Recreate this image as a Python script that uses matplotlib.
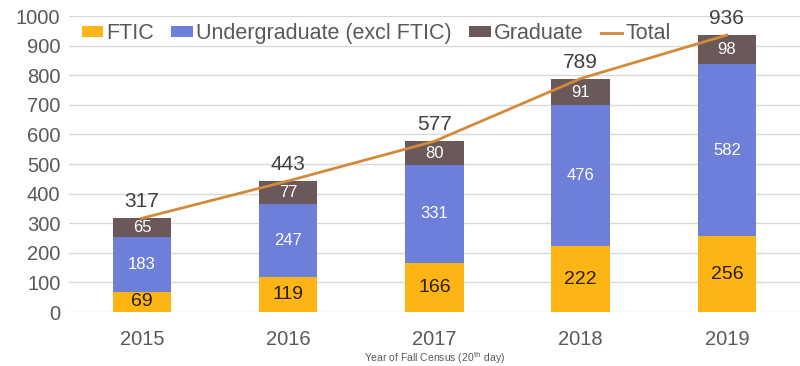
import matplotlib
matplotlib.use("Agg")
import matplotlib.pyplot as plt
import numpy as np

years = ["2015", "2016", "2017", "2018", "2019"]
ftic = [69, 119, 166, 222, 256]
undergrad = [183, 247, 331, 476, 582]
graduate = [65, 77, 80, 91, 98]
total = [317, 443, 577, 789, 936]

plt.rcParams["font.family"] = ["Liberation Sans", "DejaVu Sans"]

C_FTIC = "#FDB515"
C_UG = "#6D7FD8"
C_GR = "#6B5858"
C_TOT = "#D38A3A"
GREY = "#595959"

fig = plt.figure(figsize=(8, 3.66), dpi=100)
ax = fig.add_axes([0.086, 0.1475, 0.914, 0.8085])

x = np.arange(len(years))
w = 0.4
b1 = ax.bar(x, ftic, w, color=C_FTIC, label="FTIC", zorder=2)
b2 = ax.bar(x, undergrad, w, bottom=ftic, color=C_UG,
            label="Undergraduate (excl FTIC)", zorder=2)
bottom2 = np.array(ftic) + np.array(undergrad)
b3 = ax.bar(x, graduate, w, bottom=bottom2, color=C_GR, label="Graduate", zorder=2)
ln, = ax.plot(x, total, color=C_TOT, linewidth=2, label="Total", zorder=3)

for i in range(len(years)):
    ax.text(x[i], ftic[i] / 2, str(ftic[i]), ha="center", va="center",
            fontsize=14, color="#2b1d00", zorder=4)
    ax.text(x[i], ftic[i] + undergrad[i] / 2, str(undergrad[i]), ha="center",
            va="center", fontsize=12, color="white", zorder=4)
    ax.text(x[i], bottom2[i] + graduate[i] / 2, str(graduate[i]), ha="center",
            va="center", fontsize=12, color="white", zorder=4)
    ax.annotate(str(total[i]), (x[i], total[i]), xytext=(0, 5),
                textcoords="offset points", ha="center", va="bottom",
                fontsize=15, color="#404040", zorder=4)

ax.set_xlim(-0.5, len(years) - 0.5)
ax.set_ylim(0, 1000)
ax.set_yticks(range(0, 1001, 100))
ax.set_xticks(x)
ax.set_xticklabels(years)
ax.tick_params(axis="both", length=0, labelsize=14.5, colors=GREY)
ax.tick_params(axis="x", pad=13)
ax.tick_params(axis="y", pad=6)
ax.grid(axis="y", color="#d9d9d9", linewidth=1, zorder=0)
for s in ax.spines.values():
    s.set_visible(False)

ax.set_xlabel(r"Year of Fall Census (20$^{\mathrm{th}}$ day)", fontsize=7.5,
              color=GREY, labelpad=1)

ax.legend([b1, b2, b3, ln], ["FTIC", "Undergraduate (excl FTIC)", "Graduate", "Total"],
          loc="upper left", bbox_to_anchor=(0.0, 1.02), ncol=4, frameon=False,
          fontsize=15.5, labelcolor=GREY, handlelength=1.0, handleheight=0.4,
          handletextpad=0.15, columnspacing=0.8, borderaxespad=0.2)

fig.savefig("out.png", dpi=100, facecolor="white")
